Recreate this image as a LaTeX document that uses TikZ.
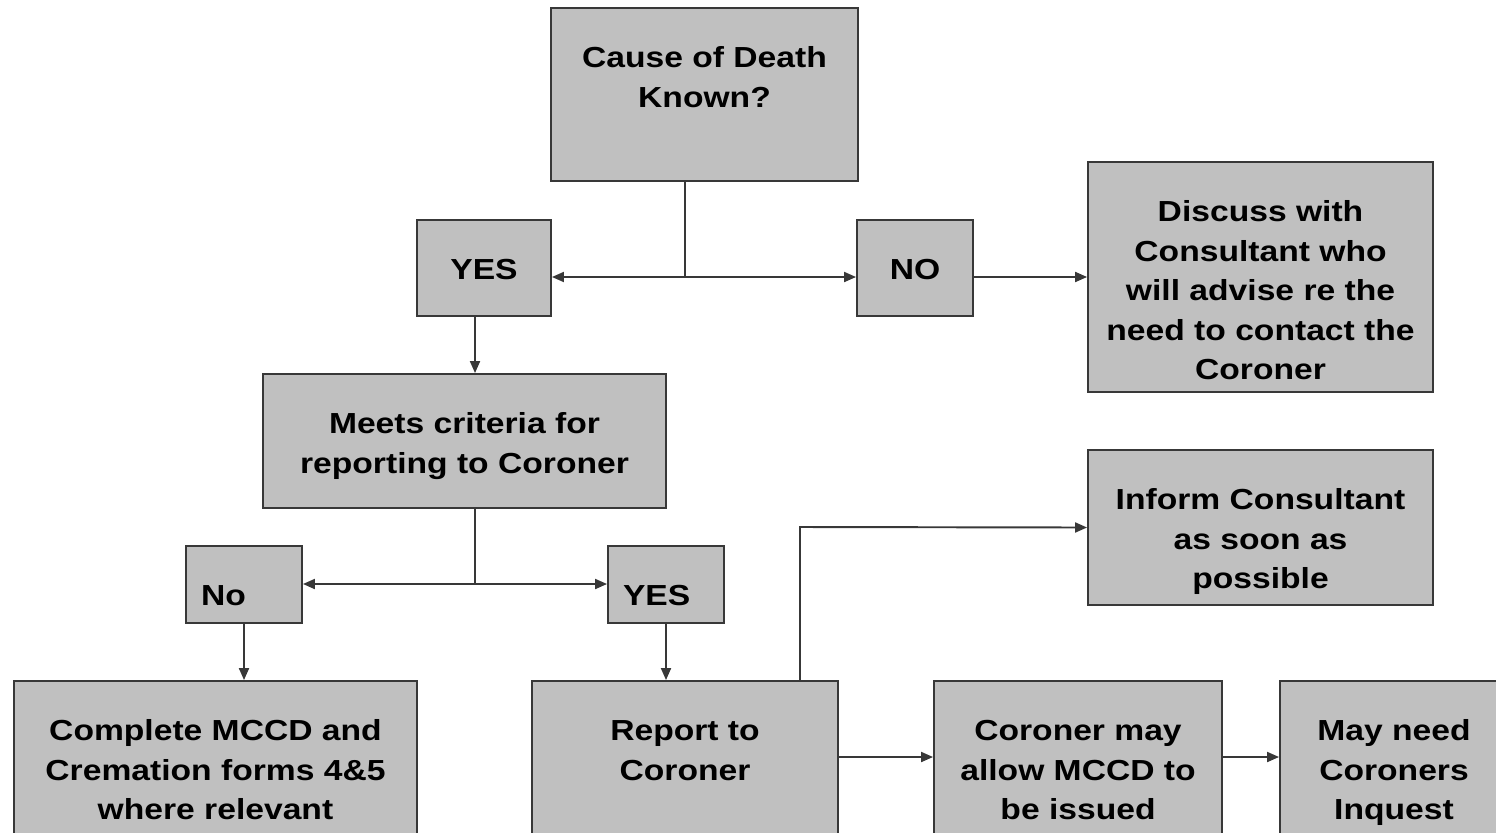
\documentclass[tikz,border=0pt]{standalone}
\usepackage{fontspec}
\setmainfont{Liberation Sans}[FakeStretch=1.16]
\usepackage{tikz}
\usetikzlibrary{arrows.meta, positioning}
\definecolor{boxgrey}{HTML}{C0C0C0}
\definecolor{edgegrey}{HTML}{383838}
\newcommand{\boxtxt}[4][\centering]{\parbox[c][#3][t]{#2}{\vspace*{0.64cm}#1\strut #4}}
\tikzstyle{stage} = [rectangle, inner sep=0pt, fill=boxgrey, draw=edgegrey, line width=1.1pt, font=\bfseries\fontsize{16.5}{22.5}\selectfont]
\tikzstyle{aro} = [-{Triangle[length=0.24cm,width=0.2cm]}, line width=1.1pt, draw=edgegrey]
\tikzstyle{ln} = [line width=1.1pt, draw=edgegrey]

\begin{document}
\begin{tikzpicture}[x=0.02cm, y=-0.02cm]
  \clip (0,0) rectangle (1496,832);

  \node (cause)    [stage] at (704.5,94.5)  {\boxtxt{6.14cm}{3.46cm}{Cause of Death\\Known?}};
  \node (yes1)     [stage] at (484,268)     {\boxtxt{2.68cm}{1.92cm}{YES}};
  \node (no1)      [stage] at (915,268)     {\boxtxt{2.32cm}{1.92cm}{NO}};
  \node (discuss)  [stage] at (1260.5,277)  {\boxtxt{6.9cm}{4.6cm}{Discuss with\\Consultant who\\will advise re the\\need to contact the\\Coroner}};
  \node (meets)    [stage] at (464.5,441)   {\boxtxt{8.06cm}{2.68cm}{Meets criteria for\\reporting to Coroner}};
  \node (no2)      [stage] at (244,584.5)   {\boxtxt[\raggedright\hspace*{0.3cm}]{2.32cm}{1.54cm}{No}};
  \node (yes2)     [stage] at (666,584.5)   {\boxtxt[\raggedright\hspace*{0.3cm}]{2.32cm}{1.54cm}{YES}};
  \node (inform)   [stage] at (1260.5,527.5){\boxtxt{6.9cm}{3.1cm}{Inform Consultant\\as soon as\\possible}};
  \node (complete) [stage] at (215.5,775)   {\boxtxt{8.06cm}{3.76cm}{Complete MCCD and\\Cremation forms 4\&5\\where relevant}};
  \node (report)   [stage] at (685,775)     {\boxtxt{6.12cm}{3.76cm}{Report to\\Coroner}};
  \node (allow)    [stage] at (1078,775)    {\boxtxt{5.76cm}{3.76cm}{Coroner may\\allow MCCD to\\be issued}};
  \node (inquest)  [stage] at (1394,775)    {\boxtxt{4.56cm}{3.76cm}{May need\\Coroners\\Inquest}};

  \coordinate (split1) at (685,277);
  \coordinate (split2) at (475,584);
  \coordinate (bend)   at (800,527);
  \coordinate (lowrow) at (0,757);

  \draw [ln]  (split1 |- cause.south) -- (split1);
  \draw [aro] (split1) -- (split1 -| yes1.east);
  \draw [aro] (split1) -- (split1 -| no1.west);
  \draw [aro] (no1.east |- discuss.west) -- (discuss.west);

  \draw [aro] (yes1.south -| split2) -- (meets.north -| split2);
  \draw [ln]  (meets.south -| split2) -- (split2);
  \draw [aro] (split2) -- (split2 -| no2.east);
  \draw [aro] (split2) -- (split2 -| yes2.west);

  \draw [aro] (no2.south) -- (no2.south |- complete.north);
  \draw [aro] (yes2.south) -- (yes2.south |- report.north);

  \draw [aro] (report.north -| bend) -- (bend) -- (inform.west);
  \draw [aro] (report.east |- lowrow) -- (allow.west |- lowrow);
  \draw [aro] (allow.east |- lowrow) -- (inquest.west |- lowrow);

\end{tikzpicture}
\end{document}
